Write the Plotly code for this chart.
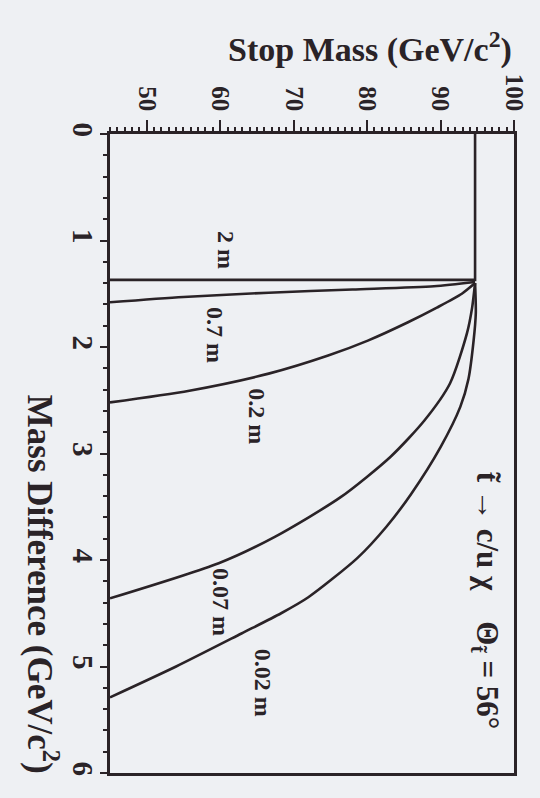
import plotly.graph_objects as go

# Stop mass (GeV/c^2) and mass difference (GeV/c^2) along each exclusion contour
m_2m = [45.0, 94.7, 94.7]
d_2m = [1.37, 1.37, 0.0]

m_07m = [45.0, 55.0, 66.6, 78.0, 89.1, 94.7]
d_07m = [1.58, 1.53, 1.49, 1.46, 1.43, 1.39]

m_02m = [45.0, 55.8, 66.6, 74.7, 80.1, 85.5, 89.5, 92.9, 94.7]
d_02m = [2.52, 2.41, 2.25, 2.08, 1.94, 1.77, 1.63, 1.50, 1.40]

m_007m = [45.0, 59.8, 67.5, 76.4, 83.2, 87.8, 91.3, 93.6, 94.3, 94.7]
d_007m = [4.36, 4.03, 3.78, 3.41, 3.03, 2.69, 2.34, 1.87, 1.63, 1.40]

m_002m = [45.0, 54.0, 62.9, 68.3, 72.0, 78.7, 82.6, 86.0, 90.0, 92.7,
          93.8, 94.5, 94.8, 94.7]
d_002m = [5.29, 5.00, 4.69, 4.50, 4.35, 3.98, 3.69, 3.38, 2.94, 2.56,
          2.30, 1.94, 1.68, 1.40]

contour_names = ["2 m", "0.7 m", "0.2 m", "0.07 m", "0.02 m"]
contour_masses = [m_2m, m_07m, m_02m, m_007m, m_002m]
contour_diffs = [d_2m, d_07m, d_02m, d_007m, d_002m]

# where each decay-length label sits (stop mass, mass difference)
label_mass = [60.8, 59.2, 65.0, 60.2, 65.8]
label_diff = [1.09, 1.89, 2.65, 4.39, 5.15]

x_ticks = [50, 60, 70, 80, 90, 100]
y_ticks = [0, 1, 2, 3, 4, 5, 6]

INK = "#2a2327"
BG = "#eef0f3"
SERIF = "Liberation Serif, Times New Roman, serif"

fig = go.Figure()
for name, ms, ds in zip(contour_names, contour_masses, contour_diffs):
    fig.add_trace(go.Scatter(
        x=ms, y=ds, mode="lines", name=name,
        line=dict(color=INK, width=2.6,
                  shape="linear" if name == "2 m" else "spline", smoothing=0.7),
        showlegend=False, hoverinfo="skip",
    ))

for name, lm, ld in zip(contour_names, label_mass, label_diff):
    fig.add_annotation(x=lm, y=ld, xref="x", yref="y", text=f"<b>{name}</b>",
                       showarrow=False, textangle=90,
                       font=dict(family=SERIF, size=24, color=INK))

fig.add_annotation(x=96.0, y=4.38, xref="x", yref="y",
                   text="t\u0303 \u2192 c/u \u03c7\u00a0\u00a0\u00a0\u00a0\u0398<sub>t\u0303</sub> = 56\u00b0",
                   showarrow=False, textangle=90,
                   font=dict(family=SERIF, size=31, color=INK, weight="bold"))

fig.add_annotation(x=1.0, y=1.136, xref="paper", yref="paper",
                   xanchor="right", yanchor="middle",
                   text="<b>Stop Mass (GeV/c<sup>2</sup>)</b>", showarrow=False,
                   font=dict(family=SERIF, size=34, color=INK))

fig.add_annotation(x=-0.168, y=0.296, xref="paper", yref="paper",
                   xanchor="center", yanchor="middle",
                   text="<b>Mass Difference (GeV/c<sup>2</sup>)</b>", showarrow=False,
                   textangle=90,
                   font=dict(family=SERIF, size=35, color=INK))

axis_common = dict(
    showgrid=False, zeroline=False, showline=True, linecolor=INK, linewidth=3,
    mirror=True, ticks="outside", tickcolor=INK, tickwidth=2,
    tickangle=90,
)

fig.update_xaxes(
    range=[45, 100], side="top", tickvals=x_ticks, ticklen=11,
    tickfont=dict(family=SERIF, size=25, color=INK, weight="bold"),
    minor=dict(ticks="outside", dtick=1, ticklen=4, tickcolor=INK, tickwidth=1.5),
    **axis_common,
)
fig.update_yaxes(
    range=[6, 0], tickvals=y_ticks, ticklen=7, ticklabelstandoff=-8,
    tickfont=dict(family=SERIF, size=29, color=INK, weight="bold"),
    minor=dict(ticks="outside", dtick=0.2, ticklen=4, tickcolor=INK, tickwidth=1.5),
    **axis_common,
)

fig.update_layout(
    width=540, height=798,
    margin=dict(l=110, r=23, t=134, b=25),
    paper_bgcolor=BG, plot_bgcolor=BG,
    font=dict(family=SERIF, color=INK),
)

fig.write_html("out.html")
